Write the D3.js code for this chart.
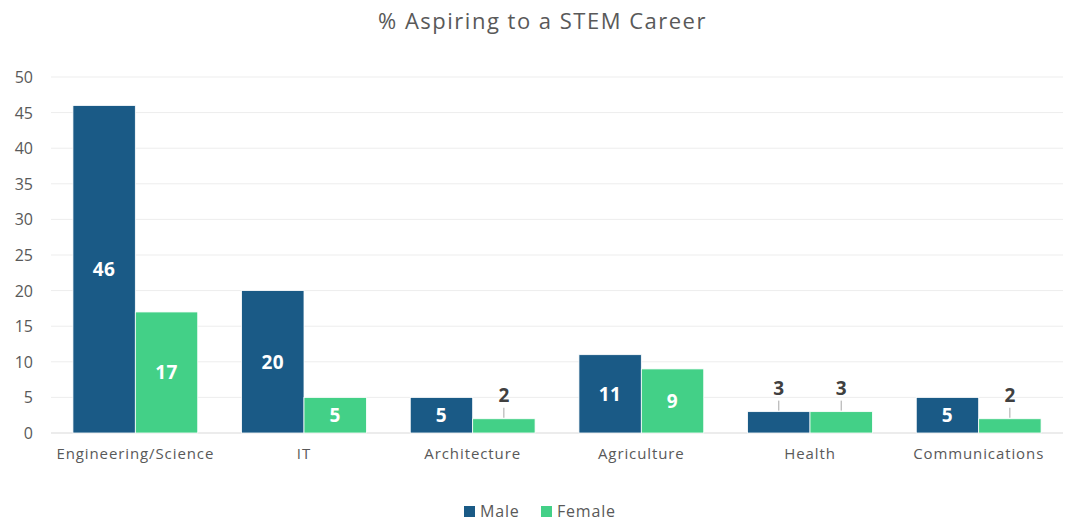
<!DOCTYPE html>
<html>
<head>
<meta charset="utf-8">
<script src="https://cdn.jsdelivr.net/npm/d3@7"></script>
<style>
  body { margin: 0; background: #fff; }
  text { font-family: "Open Sans", "DejaVu Sans", sans-serif; }
</style>
</head>
<body>
<div id="chart"></div>
<script>
const WIDTH = 1065;
const HEIGHT = 521;

const categories = ["Engineering/Science", "IT", "Architecture", "Agriculture", "Health", "Communications"];
const seriesNames = ["Male", "Female"];
const maleValues = [46, 20, 5, 11, 3, 5];
const femaleValues = [17, 5, 2, 9, 3, 2];
const yTicks = [0, 5, 10, 15, 20, 25, 30, 35, 40, 45, 50];
const colors = ["#1a5a86", "#43d087"];

// plot area in pixels
const LEFT = 51, RIGHT = 1063, TOP = 77, BOTTOM = 433;

const svg = d3.select('#chart').append('svg')
  .attr('width', WIDTH).attr('height', HEIGHT);

const x = d3.scaleBand().domain(categories).range([LEFT, RIGHT]).paddingInner(0.26).paddingOuter(0.13);
const xs = d3.scaleBand().domain(seriesNames).range([0, x.bandwidth()]);
const y = d3.scaleLinear().domain([0, 50]).range([BOTTOM, TOP]);

svg.append('text')
  .attr('x', WIDTH / 2 + 10).attr('y', 29)
  .attr('text-anchor', 'middle')
  .attr('font-size', 22).attr('letter-spacing', 1.5).attr('fill', '#595959')
  .text('% Aspiring to a STEM Career');

// grid
svg.append('g').selectAll('line').data(yTicks).enter().append('line')
  .attr('x1', LEFT).attr('x2', RIGHT)
  .attr('y1', d => y(d)).attr('y2', d => y(d))
  .attr('stroke', d => d === 0 ? '#d9d9d9' : '#ededed')
  .attr('stroke-width', 1);

svg.append('g').selectAll('text').data(yTicks).enter().append('text')
  .attr('x', 33).attr('y', d => y(d) + 6)
  .attr('text-anchor', 'end')
  .attr('font-size', 16).attr('fill', '#595959')
  .text(d => d);

svg.append('g').selectAll('text').data(categories).enter().append('text')
  .attr('x', d => x(d) + x.bandwidth() / 2).attr('y', 459)
  .attr('text-anchor', 'middle')
  .attr('font-size', 15).attr('letter-spacing', 0.9).attr('fill', '#595959')
  .text(d => d);

const rows = [];
categories.forEach((c, i) => {
  rows.push({ cat: c, s: "Male", v: maleValues[i], col: colors[0] });
  rows.push({ cat: c, s: "Female", v: femaleValues[i], col: colors[1] });
});

svg.append('g').selectAll('rect').data(rows).enter().append('rect')
  .attr('x', d => x(d.cat) + xs(d.s))
  .attr('y', d => y(d.v))
  .attr('width', xs.bandwidth())
  .attr('height', d => y(0) - y(d.v))
  .attr('fill', d => d.col)
  .attr('stroke', '#ffffff').attr('stroke-width', 0.8);

// data labels: inside when the bar is tall enough, else above with a leader line
const labels = svg.append('g');
rows.forEach(d => {
  const cx = x(d.cat) + xs(d.s) + xs.bandwidth() / 2;
  const inside = d.v >= 5;
  if (inside) {
    labels.append('text')
      .attr('x', cx).attr('y', (y(d.v) + y(0)) / 2 + 7)
      .attr('text-anchor', 'middle')
      .attr('font-size', 19).attr('font-weight', 'bold').attr('letter-spacing', 0.5).attr('fill', '#ffffff')
      .text(d.v);
  } else {
    labels.append('line')
      .attr('x1', cx).attr('x2', cx)
      .attr('y1', y(d.v) - 1).attr('y2', y(d.v) - 11)
      .attr('stroke', '#a6a6a6').attr('stroke-width', 1);
    labels.append('text')
      .attr('x', cx).attr('y', y(d.v) - 17)
      .attr('text-anchor', 'middle')
      .attr('font-size', 19).attr('font-weight', 'bold').attr('fill', '#404040')
      .text(d.v);
  }
});

// legend
const legend = svg.append('g');
const legendX = [464, 541];
seriesNames.forEach((s, i) => {
  legend.append('rect')
    .attr('x', legendX[i]).attr('y', 506)
    .attr('width', 11).attr('height', 11)
    .attr('fill', colors[i]);
  legend.append('text')
    .attr('x', legendX[i] + 16).attr('y', 517)
    .attr('font-size', 16).attr('letter-spacing', 0.8).attr('fill', '#595959')
    .text(s);
});
</script>
</body>
</html>
